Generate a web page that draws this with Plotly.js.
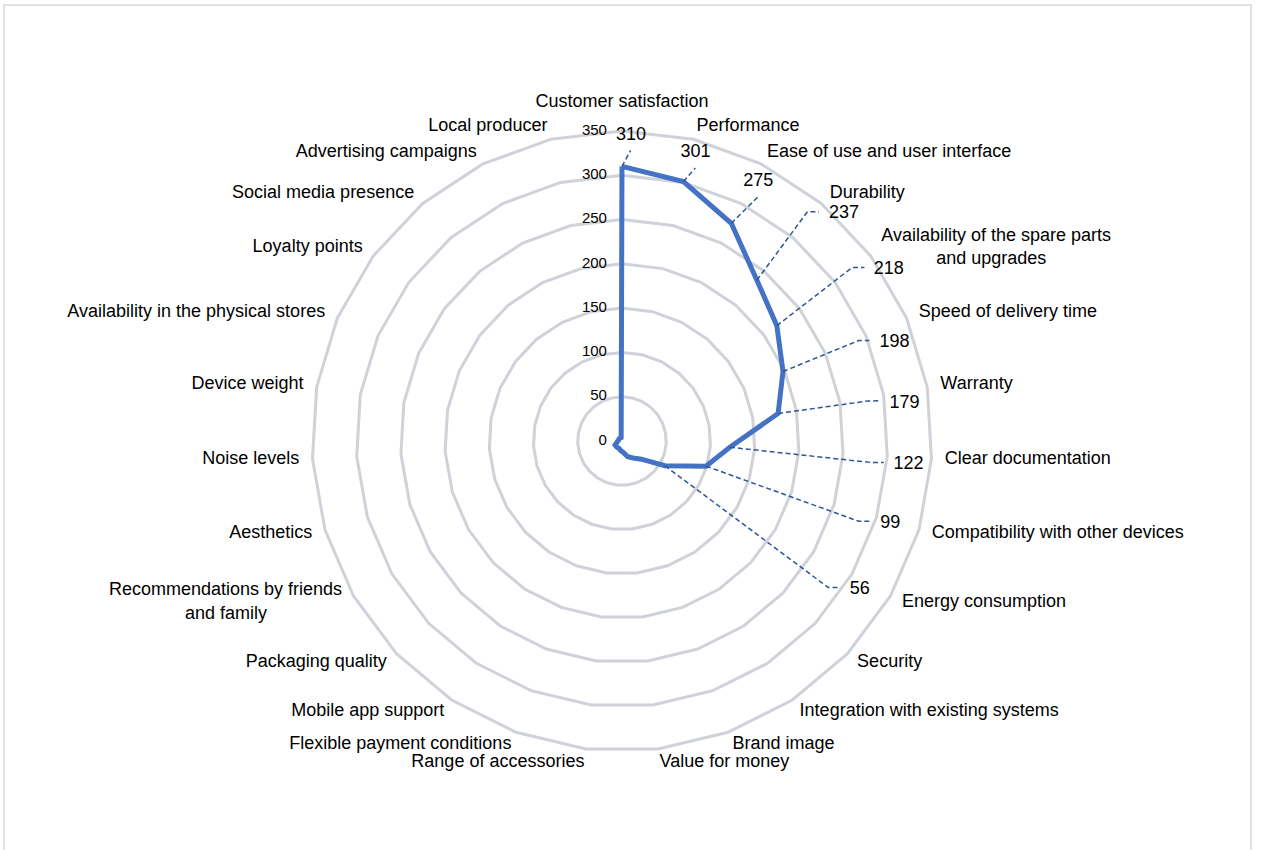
<!DOCTYPE html>
<html>
<head>
<meta charset="utf-8">
<script src="https://cdn.plot.ly/plotly-3.0.1.min.js"></script>
<style>
html,body{margin:0;padding:0;background:#ffffff;}
#chart{width:1267px;height:850px;}
</style>
</head>
<body>
<div id="chart"></div>
<script>
// ---------- data ----------
const categories = [
  "Customer satisfaction",
  "Performance",
  "Ease of use and user interface",
  "Durability",
  "Availability of the spare parts<br>\u00a0\u00a0\u00a0\u00a0\u00a0\u00a0\u00a0\u00a0\u00a0\u00a0\u00a0and upgrades",
  "Speed of delivery time",
  "Warranty",
  "Clear documentation",
  "Compatibility with other devices",
  "Energy consumption",
  "Security",
  "Integration with existing systems",
  "Brand image",
  "Value for money",
  "Range of accessories",
  "Flexible payment conditions",
  "Mobile app support",
  "Packaging quality",
  "Recommendations by friends<br>and family\u00a0\u00a0\u00a0\u00a0\u00a0\u00a0\u00a0\u00a0\u00a0\u00a0\u00a0\u00a0\u00a0\u00a0\u00a0",
  "Aesthetics",
  "Noise levels",
  "Device weight",
  "Availability in the physical stores",
  "Loyalty points",
  "Social media presence",
  "Advertising campaigns",
  "Local producer"
];
const values = [310, 301, 275, 237, 218, 198, 179, 122, 99, 56, 30, 23, 19, 13, 11, 9, 9, 9, 9, 6, 5, 4, 4, 4, 4, 4, 4];
const radialTicks = [0, 50, 100, 150, 200, 250, 300, 350];
const labelledCount = 10;

// ---------- layout helpers (placement only, polar units [r, theta deg]) ----------
const leaderElbow = [null, null, null,
  [332.8, 38.97], [325.4, 53.0], [290.5, 67.0], [282.3, 80.77],
  [283.4, 94.94], [282.4, 108.73], [285.7, 125.39]];
const leaderEnd = [[328.2, 1.71], [319.1, 15.04], [315.0, 29.09],
  [341.2, 40.69], [336.6, 54.43], [301.6, 67.90], [293.4, 81.12],
  [296.5, 94.72], [294.8, 107.91], [297.2, 123.84]];
const labelPos = [[344.5, 1.68], [335.7, 14.34], [330.7, 27.74],
  [358.8, 44.30], [358.1, 57.24], [327.3, 70.13], [321.9, 82.38],
  [324.7, 94.66], [316.7, 107.02], [316.4, 121.94]];
const CAT_LABEL_R = 365;      // radius of category labels (polar units)
const TOP_LABEL_R = 382;      // radius of the label straight above the centre

const FONT = "Liberation Sans, Arial, sans-serif";
const GRID = "#cfd2d8";
const step = 360 / categories.length;
const RMAX = 350, RMAX2 = 400;
const domain = {x: [0.2462, 0.7356], y: [0.1165, 0.8459]};
function scaleDomain(d, f) {
  const cx = (d.x[0] + d.x[1]) / 2, hx = (d.x[1] - d.x[0]) / 2 * f;
  const cy = (d.y[0] + d.y[1]) / 2, hy = (d.y[1] - d.y[0]) / 2 * f;
  return {x: [cx - hx, cx + hx], y: [cy - hy, cy + hy]};
}
const domain2 = scaleDomain(domain, RMAX2 / RMAX);
const tickShift = 15 / 1267;  // radial tick labels sit left of the axis
const domain3 = {x: [domain.x[0] - tickShift, domain.x[1] - tickShift], y: domain.y.slice()};

const traces = [];
// main series
traces.push({
  type: "scatterpolar", subplot: "polar",
  r: values.concat([values[0]]),
  theta: categories.concat([categories[0]]),
  mode: "lines",
  line: {color: "#4472C4", width: 5},
  hoverinfo: "skip"
});

// leader lines
for (let k = 0; k < labelledCount; k++) {
  const rr = [values[k]], tt = [k * step];
  if (leaderElbow[k]) { rr.push(leaderElbow[k][0]); tt.push(leaderElbow[k][1]); }
  rr.push(leaderEnd[k][0]); tt.push(leaderEnd[k][1]);
  traces.push({
    type: "scatterpolar", subplot: "polar2",
    r: rr, theta: tt, mode: "lines", cliponaxis: false,
    line: {color: "#2F5597", width: 1.5, dash: "5px,3px"},
    hoverinfo: "skip"
  });
}

// data labels
traces.push({
  type: "scatterpolar", subplot: "polar2",
  r: labelPos.map(p => p[0]),
  theta: labelPos.map(p => p[1]),
  text: values.slice(0, labelledCount).map(v => String(v)),
  mode: "text", textposition: "middle center", cliponaxis: false,
  textfont: {family: FONT, size: 18, color: "#000000"},
  hoverinfo: "skip"
});

// category labels
const catTheta = categories.map((c, k) => k * step);
traces.push({
  type: "scatterpolar", subplot: "polar2",
  r: catTheta.map(t => (Math.abs(Math.sin(t * Math.PI / 180)) < 0.05 && Math.cos(t * Math.PI / 180) > 0) ? TOP_LABEL_R : CAT_LABEL_R),
  theta: catTheta,
  text: categories,
  mode: "text", cliponaxis: false,
  textposition: catTheta.map(t => {
    const s = Math.sin(t * Math.PI / 180);
    if (Math.abs(s) < 0.05) return "middle center";
    return s > 0 ? "middle right" : "middle left";
  }),
  textfont: {family: FONT, size: 18, color: "#000000"},
  hoverinfo: "skip"
});

// radial tick labels
traces.push({
  type: "scatterpolar", subplot: "polar3",
  r: radialTicks, theta: radialTicks.map(() => 0),
  text: radialTicks.map(String),
  mode: "text", textposition: "middle left", cliponaxis: false,
  textfont: {family: FONT, size: 15, color: "#000000"},
  hoverinfo: "skip"
});

const hiddenPolar = (dom, rmax) => ({
  domain: dom,
  bgcolor: "rgba(0,0,0,0)",
  angularaxis: {type: "linear", thetaunit: "degrees", rotation: 90, direction: "clockwise", visible: false},
  radialaxis: {range: [0, rmax], visible: false}
});

const layout = {
  width: 1267, height: 850,
  margin: {l: 0, r: 0, t: 0, b: 0},
  paper_bgcolor: "#ffffff",
  showlegend: false,
  font: {family: FONT, color: "#000000"},
  polar: {
    domain: domain,
    bgcolor: "rgba(0,0,0,0)",
    gridshape: "linear",
    angularaxis: {
      type: "category", rotation: 90, direction: "clockwise",
      showgrid: false, showline: true, linecolor: GRID, linewidth: 3,
      ticks: "", showticklabels: false
    },
    radialaxis: {
      range: [0, RMAX], tickmode: "array", tickvals: radialTicks,
      showline: false, showgrid: true, gridcolor: GRID, gridwidth: 3,
      angle: 90, ticks: "", showticklabels: false
    }
  },
  polar2: hiddenPolar(domain2, RMAX2),
  polar3: hiddenPolar(domain3, RMAX),
  shapes: [{
    type: "rect", xref: "paper", yref: "paper",
    x0: 0.0032, x1: 0.9874, y0: -0.01, y1: 0.9941,
    line: {color: "#d9d9d9", width: 1.5}
  }]
};

Plotly.newPlot("chart", traces, layout, {staticPlot: true, displayModeBar: false});
</script>
</body>
</html>
